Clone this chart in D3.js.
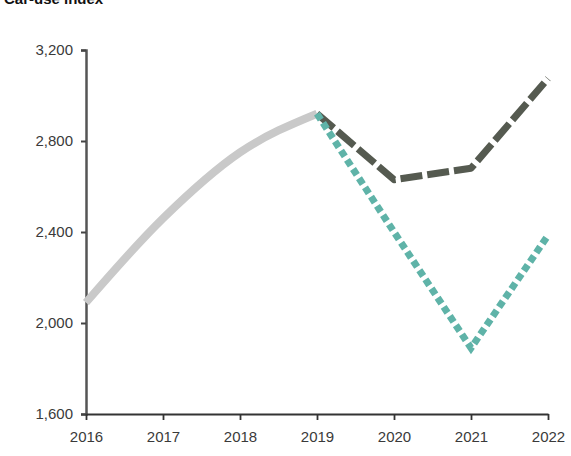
<!DOCTYPE html>
<html>
<head>
<meta charset="utf-8">
<script src="https://cdn.jsdelivr.net/npm/d3@7"></script>
<style>
  body { margin: 0; background: #fff; }
  svg { display: block; }
  .tick text { font-family: "Liberation Sans", Arial, sans-serif; font-size: 15px; fill: #3a3a3a; }
</style>
</head>
<body>
<div id="chart"></div>
<script>
// values
var years = [2016, 2017, 2018, 2019, 2020, 2021, 2022];
var pastValues = [2090, 2460, 2750, 2920, null, null, null];
var upsideValues = [null, null, null, 2920, 2630, 2680, 3075];
var downsideValues = [null, null, null, 2920, 2400, 1890, 2385];
var yTicks = [1600, 2000, 2400, 2800, 3200];

var width = 571, height = 456,
    margin = {top: 50, right: 23, bottom: 42, left: 86};

var svg = d3.select("#chart").append("svg")
    .attr("width", width)
    .attr("height", height);

// title, clipped at the top edge as in the source image
svg.append("text")
    .attr("x", 4)
    .attr("y", 4)
    .style("font-family", "Liberation Sans, Arial, sans-serif")
    .style("font-weight", "bold")
    .style("font-size", "15px")
    .style("fill", "#111")
    .text("Car-use index");

var x = d3.scalePoint()
    .domain(years)
    .range([margin.left, width - margin.right]);

var y = d3.scaleLinear()
    .domain([1600, 3200])
    .range([height - margin.bottom, margin.top]);

var yAxis = svg.append("g")
    .attr("transform", "translate(" + margin.left + ",0)")
    .call(d3.axisLeft(y).tickValues(yTicks).tickSize(5).tickPadding(8)
        .tickFormat(d3.format(",")));
yAxis.select(".domain").attr("stroke", "#555").attr("stroke-width", 2.5);
yAxis.selectAll(".tick line").attr("stroke", "#444").attr("stroke-width", 2);

var xAxis = svg.append("g")
    .attr("transform", "translate(0," + (height - margin.bottom) + ")")
    .call(d3.axisBottom(x).tickSize(6).tickPadding(11).tickSizeOuter(0));
xAxis.select(".domain").attr("stroke", "#333").attr("stroke-width", 1.8);
xAxis.selectAll(".tick line").attr("stroke", "#333").attr("stroke-width", 1.8);

function series(values) {
    return years.map(function (yr, i) { return {x: yr, y: values[i]}; })
        .filter(function (d) { return d.y !== null; });
}

var line = d3.line()
    .x(function (d) { return x(d.x); })
    .y(function (d) { return y(d.y); });

var smoothLine = d3.line()
    .curve(d3.curveMonotoneX)
    .x(function (d) { return x(d.x); })
    .y(function (d) { return y(d.y); });

svg.append("path")
    .datum(series(pastValues))
    .attr("fill", "none")
    .attr("stroke", "#c9c9c9")
    .attr("stroke-width", 8)
    .attr("stroke-linejoin", "round")
    .attr("d", smoothLine);

svg.append("path")
    .datum(series(upsideValues))
    .attr("fill", "none")
    .attr("stroke", "#555a50")
    .attr("stroke-width", 7)
    .attr("stroke-dasharray", "22,5")
    .attr("stroke-linejoin", "round")
    .attr("d", line);

svg.append("path")
    .datum(series(downsideValues))
    .attr("fill", "none")
    .attr("stroke", "#5fb3a8")
    .attr("stroke-width", 7)
    .attr("stroke-dasharray", "7,4")
    .attr("d", line);
</script>
</body>
</html>
